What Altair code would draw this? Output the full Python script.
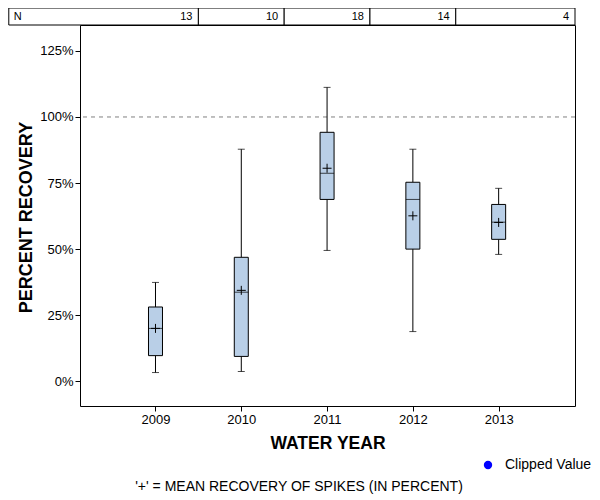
import altair as alt
import pandas as pd

# ---- data ----
years = [2009, 2010, 2011, 2012, 2013]
n_counts = ["13", "10", "18", "14", "4"]
whisker_low = [3.3, 3.7, 49.5, 18.8, 48.0]
q1 = [9.7, 9.4, 68.8, 50.0, 53.7]
median = [20.0, 33.7, 78.7, 68.8, 60.2]
q3 = [28.1, 46.9, 94.2, 75.3, 66.9]
whisker_high = [37.4, 87.8, 111.2, 87.8, 73.0]
mean = [20.0, 34.4, 80.6, 62.6, 60.1]

# N-table cell edges (in water-year units)
cell_left = [2007.29, 2009.5, 2010.5, 2011.5, 2012.5]
cell_right = [2009.5, 2010.5, 2011.5, 2012.5, 2013.89]

y_ticks = [0, 25, 50, 75, 100, 125]
X_DOMAIN = [2008.12, 2013.89]
Y_DOMAIN = [-9.36, 134.8]
REFERENCE_LINE = [100]

FONT = "Liberation Sans"
BOX_FILL = "#b9cfe7"

df = pd.DataFrame({
    "year": years, "lo": whisker_low, "q1": q1, "med": median,
    "q3": q3, "hi": whisker_high, "mean": mean,
})
table = pd.DataFrame({"left": cell_left, "right": cell_right, "n": n_counts})
ref = pd.DataFrame({"v": REFERENCE_LINE})

xs = alt.Scale(domain=X_DOMAIN, nice=False, zero=False, padding=0)
ys = alt.Scale(domain=Y_DOMAIN, nice=False, zero=False, padding=0)
x_axis = alt.Axis(values=years, format="d", title="WATER YEAR",
                  titleY=37, titleBaseline="middle", titleFontSize=17.5)
y_axis = alt.Axis(values=y_ticks, labelExpr="datum.value + '%'",
                  title="PERCENT RECOVERY", titleX=-54,
                  titleY=192, titleBaseline="middle", titleFontSize=18)


def X(field):
    return alt.X(field, type="quantitative", scale=xs, axis=x_axis)


def Y(field):
    return alt.Y(field, type="quantitative", scale=ys, axis=y_axis)


base = alt.Chart(df)

refline = alt.Chart(ref).mark_rule(color="#808080", strokeDash=[4, 4], strokeWidth=1).encode(
    y=Y("v")
)

whisk_low = base.mark_rule(color="black", strokeWidth=1).encode(
    x=X("year"), y=Y("lo"), y2="q1"
)
whisk_high = base.mark_rule(color="black", strokeWidth=1).encode(
    x=X("year"), y=Y("q3"), y2="hi"
)
caps_low = base.mark_tick(orient="horizontal", size=7, thickness=1, color="black").encode(
    x=X("year"), y=Y("lo")
)
caps_high = base.mark_tick(orient="horizontal", size=7, thickness=1, color="black").encode(
    x=X("year"), y=Y("hi")
)
boxes = base.mark_bar(orient="vertical", size=14, fill=BOX_FILL, stroke="black",
                      strokeWidth=1).encode(
    x=X("year"), y=Y("q1"), y2="q3"
)
medians = base.mark_tick(orient="horizontal", size=14, thickness=1, color="black").encode(
    x=X("year"), y=Y("med")
)
means = base.mark_point(shape="M-1,0H1M0,-1V1", size=81, filled=False, color="black",
                        strokeWidth=1, opacity=1).encode(
    x=X("year"), y=Y("mean")
)

tchart = alt.Chart(table)
cells = tchart.mark_rect(fill="white", stroke="black", strokeWidth=1).encode(
    x=X("left"), x2="right", y=alt.value(-17), y2=alt.value(0)
)
ncounts = tchart.mark_text(align="right", baseline="middle", dx=-6, font=FONT,
                           fontSize=11, color="black").encode(
    x=X("right"), y=alt.value(-8.5), text="n:N"
)
nlabel = alt.Chart(pd.DataFrame({"t": ["N"], "left": [cell_left[0]]})).mark_text(
    align="left", baseline="middle", dx=5, font=FONT, fontSize=11, color="black"
).encode(x=X("left"), y=alt.value(-8.5), text="t:N")

legend_dot = alt.Chart(pd.DataFrame({"t": ["Clipped Value"]})).mark_circle(
    color="#0000ff", size=70, opacity=1
).encode(x=alt.value(408), y=alt.value(440))
legend_txt = alt.Chart(pd.DataFrame({"t": ["Clipped Value"]})).mark_text(
    align="left", baseline="middle", font=FONT, fontSize=14, color="black"
).encode(x=alt.value(425), y=alt.value(440), text="t:N")
footer = alt.Chart(pd.DataFrame({"t": ["'+' = MEAN RECOVERY OF SPIKES (IN PERCENT)"]})).mark_text(
    align="center", baseline="middle", font=FONT, fontSize=14, color="black"
).encode(x=alt.value(219), y=alt.value(462), text="t:N")

chart = alt.layer(
    refline, whisk_low, whisk_high, caps_low, caps_high, boxes, medians, means,
    cells, ncounts, nlabel, legend_dot, legend_txt, footer
).properties(
    width=495, height=381,
    padding={"left": 72, "top": 17, "right": 17, "bottom": 90},
    autosize=alt.AutoSizeParams(type="none"),
).configure_view(
    stroke="black", strokeWidth=1
).configure_axis(
    domain=False, grid=False, tickColor="black", tickSize=5, labelColor="black",
    labelFont=FONT, labelFontSize=13, labelPadding=2, titleFont=FONT,
    titleFontWeight="bold", titleColor="black",
)

chart.save("out.html", embed_options={"renderer": "svg", "actions": False})
